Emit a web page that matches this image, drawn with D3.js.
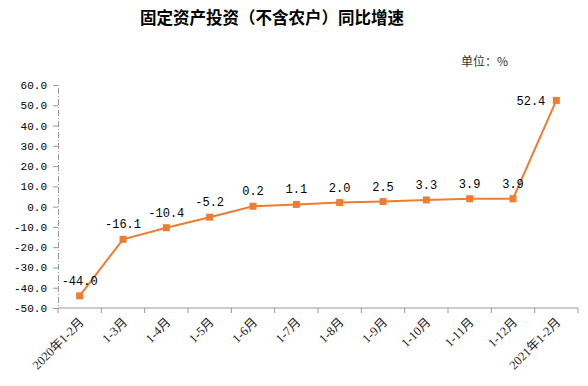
<!DOCTYPE html>
<html>
<head>
<meta charset="utf-8">
<script src="https://cdn.jsdelivr.net/npm/d3@7"></script>
<style>
body { margin: 0; background: #fff; }
</style>
</head>
<body>
<script>
// data
var months = ["2020年1-2月", "1-3月", "1-4月", "1-5月", "1-6月", "1-7月", "1-8月", "1-9月", "1-10月", "1-11月", "1-12月", "2021年1-2月"];
var growth = [-44.0, -16.1, -10.4, -5.2, 0.2, 1.1, 2.0, 2.5, 3.3, 3.9, 3.9, 52.4];
var yTicks = [60, 50, 40, 30, 20, 10, 0, -10, -20, -30, -40, -50];

var width = 588, height = 386;
var padLeft = 58, padRight = 578, padTop = 85, padBottom = 308;
var orange = "#ED7D31";
var mono = "'Liberation Mono', 'Noto Sans CJK SC', monospace";
var serif = "'Liberation Serif', 'Noto Sans CJK SC', serif";

var svg = d3.select("body").append("svg")
  .attr("width", width)
  .attr("height", height);

// title and unit
svg.append("text")
  .attr("x", 272).attr("y", 24)
  .attr("text-anchor", "middle")
  .style("font-family", "'Noto Sans CJK SC', sans-serif")
  .style("font-weight", "bold")
  .style("font-size", "16.5px")
  .text("固定资产投资（不含农户）同比增速");

svg.append("text")
  .attr("x", 508).attr("y", 66)
  .attr("text-anchor", "end")
  .style("font-family", "'Noto Sans CJK SC', sans-serif")
  .style("font-size", "12px")
  .style("fill", "#333")
  .text("单位：%");

var x = d3.scaleBand().domain(months).range([padLeft, padRight]);
var y = d3.scaleLinear().domain([-50, 60]).range([padBottom, padTop]);

// y axis
var yAxis = svg.append("g")
  .attr("transform", "translate(" + padLeft + ",0)")
  .call(d3.axisLeft(y).tickValues(yTicks).tickSize(5).tickFormat(d3.format(".1f")));
yAxis.select(".domain").attr("stroke", "#999").attr("stroke-dasharray", "6,2,1,2");
yAxis.selectAll(".tick line").attr("stroke", "#999");
yAxis.selectAll("text")
  .attr("x", -11)
  .style("font-family", mono)
  .style("font-size", "11px")
  .style("fill", "#000")
  .text(d => d3.format(".1f")(d).replace("−", "-"));

// x axis with ticks at band edges
var xAxis = svg.append("g")
  .attr("transform", "translate(0," + padBottom + ")");
xAxis.append("line")
  .attr("x1", padLeft).attr("x2", padRight)
  .attr("stroke", "#999");
xAxis.selectAll(".edge")
  .data(months)
  .enter()
  .append("line")
  .attr("class", "edge")
  .attr("x1", d => x(d) + x.bandwidth()).attr("x2", d => x(d) + x.bandwidth())
  .attr("y1", 0).attr("y2", 5)
  .attr("stroke", "#999");
xAxis.append("line")
  .attr("x1", padLeft).attr("x2", padLeft)
  .attr("y1", 0).attr("y2", 5)
  .attr("stroke", "#999");
xAxis.selectAll(".lab")
  .data(months)
  .enter()
  .append("text")
  .attr("class", "lab")
  .attr("transform", d => "translate(" + (x(d) + x.bandwidth() / 2 + 5) + ",15) rotate(-45)")
  .attr("text-anchor", "end")
  .style("font-family", serif)
  .style("font-size", "12.5px")
  .style("fill", "#222")
  .text(d => d);

// line
var line = d3.line()
  .x((d, i) => x(months[i]) + x.bandwidth() / 2)
  .y(d => y(d));

svg.append("path")
  .datum(growth)
  .attr("d", line)
  .attr("fill", "none")
  .attr("stroke", orange)
  .attr("stroke-width", 2);

svg.selectAll(".pt")
  .data(growth)
  .enter()
  .append("rect")
  .attr("class", "pt")
  .attr("x", (d, i) => x(months[i]) + x.bandwidth() / 2 - 3.5)
  .attr("y", d => y(d) - 3.5)
  .attr("width", 7).attr("height", 7)
  .attr("fill", orange);

// value labels
svg.selectAll(".val")
  .data(growth)
  .enter()
  .append("text")
  .attr("class", "val")
  .attr("x", (d, i) => x(months[i]) + x.bandwidth() / 2 - (i == growth.length - 1 ? 11 : 0))
  .attr("y", (d, i) => i == growth.length - 1 ? y(d) + 5 : y(d) - 11)
  .attr("text-anchor", (d, i) => i == growth.length - 1 ? "end" : "middle")
  .style("font-family", mono)
  .style("font-size", "12px")
  .style("fill", "#000")
  .text(d => d.toFixed(1));
</script>
</body>
</html>
